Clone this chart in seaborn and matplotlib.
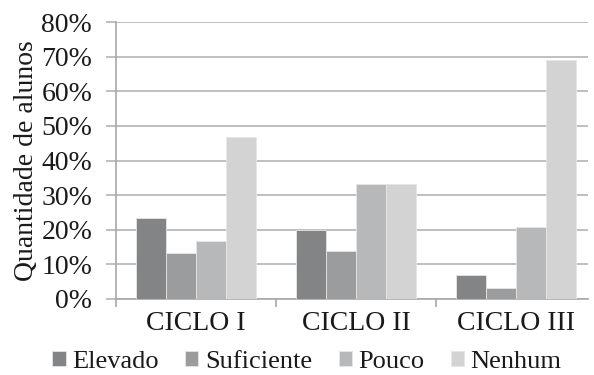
import matplotlib
matplotlib.use("Agg")
import matplotlib.pyplot as plt
import seaborn as sns
import pandas as pd
from matplotlib.ticker import FuncFormatter, FixedLocator

ciclos = ["CICLO I", "CICLO II", "CICLO III"]
niveis = ["Elevado", "Suficiente", "Pouco", "Nenhum"]
elevado = [23.3, 19.8, 6.9]
suficiente = [13.3, 13.9, 3.0]
pouco = [16.7, 33.3, 20.7]
nenhum = [46.7, 33.3, 69.0]
y_ticks = [0, 10, 20, 30, 40, 50, 60, 70, 80]
cores = ["#828486", "#9a9c9d", "#b6b8b9", "#d3d3d3"]

rows = []
for nivel, vals in zip(niveis, [elevado, suficiente, pouco, nenhum]):
    for c, v in zip(ciclos, vals):
        rows.append({"ciclo": c, "nivel": nivel, "valor": v})
df = pd.DataFrame(rows)

sns.set_theme(style="white")
plt.rcParams["font.family"] = ["Liberation Serif", "DejaVu Serif"]

fig = plt.figure(figsize=(5.94, 3.75), dpi=100)
ax = fig.add_axes([0.195, 0.203, 0.795, 0.738])

sns.barplot(data=df, x="ciclo", y="valor", hue="nivel", order=ciclos,
            hue_order=niveis, palette=cores, width=0.75, gap=0,
            edgecolor="#e6e6e6", linewidth=0.6, ax=ax, zorder=3)

ax.set_ylim(0, 80)
ax.set_xlim(-0.5, 2.45)
ax.yaxis.set_major_locator(FixedLocator(y_ticks))
ax.yaxis.set_major_formatter(FuncFormatter(lambda v, p: f"{v:.0f}%"))
ax.grid(axis="y", color="#b4b4b4", linewidth=1.2, zorder=0)
ax.set_axisbelow(True)

for s in ["top", "right"]:
    ax.spines[s].set_visible(False)
for s in ["left", "bottom"]:
    ax.spines[s].set_color("#a8a8a8")
    ax.spines[s].set_linewidth(1.2)

txt = "#1a1a1a"
ax.tick_params(axis="y", length=7, width=1.2, color="#b4b4b4", labelsize=20,
               pad=10, labelcolor=txt, left=True)
ax.tick_params(axis="x", which="major", length=0, labelsize=20, pad=9,
               labelcolor=txt)
ax.set_xticks([-0.5, 0.5, 1.5], minor=True)
ax.tick_params(axis="x", which="minor", length=6, width=1.2, color="#a8a8a8",
               bottom=True)

ax.set_xlabel("")
ax.set_ylabel("Quantidade de alunos", fontsize=20, color=txt, labelpad=2)

handles, labels = ax.get_legend_handles_labels()
ax.legend(handles, labels, loc="upper center", bbox_to_anchor=(0.405, -0.14),
          ncol=4, frameon=False, fontsize=19, handlelength=0.5,
          handleheight=0.5, handletextpad=0.25, columnspacing=1.0,
          borderpad=0, labelcolor=txt)

fig.savefig("out.png", dpi=100)
